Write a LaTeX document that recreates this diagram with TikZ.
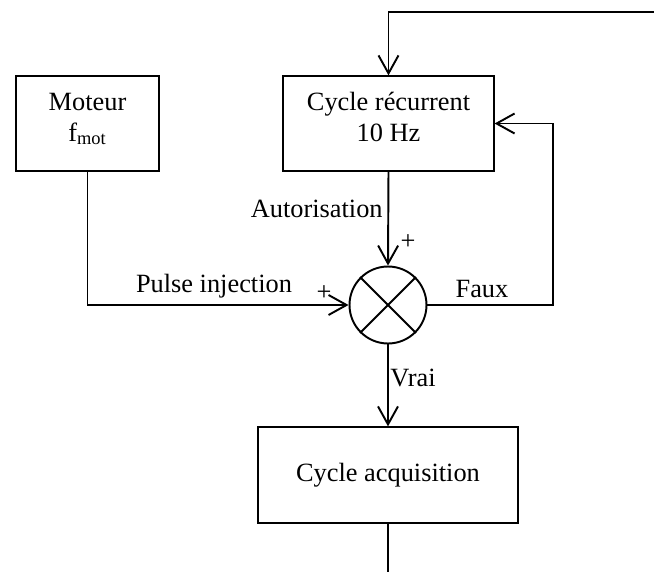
\documentclass[tikz,border=0pt]{standalone}
\usepackage{fontspec}
\setmainfont{Liberation Serif}
\usetikzlibrary{arrows.meta}

\begin{document}
\begin{tikzpicture}[
  x=0.02cm, y=-0.02cm,
  font=\fontsize{15}{17.6}\selectfont,
  bloc/.style={rectangle, draw, line width=0.7pt, align=center, inner sep=0pt},
  haut2/.style={text height=0.98cm, text depth=0.28cm},
  somme/.style={circle, draw, line width=1.1pt, minimum size=1.54cm, inner sep=0pt},
  fleche/.style={draw, line width=1.1pt, -{Straight Barb[length=0.36cm, width=0.4cm, line width=1.1pt]}},
  trait/.style={draw, line width=1.1pt},
  etiq/.style={anchor=base, inner sep=0pt}
]
  \useasboundingbox (0,0) rectangle (654,572);
  \node[bloc, haut2, minimum width=2.86cm, minimum height=1.9cm] (moteur) at (87.5,123.5) {Moteur\\f\textsubscript{mot}};
  \node[bloc, haut2, minimum width=4.22cm, minimum height=1.9cm] (recurrent) at (388.5,123.5) {Cycle récurrent\\10 Hz};
  \node[somme] (sum) at (388,305) {};
  \node[bloc, minimum width=5.2cm, minimum height=1.92cm] (acq) at (388,475) {Cycle acquisition};
  \coordinate (haut) at (654,12);
  \coordinate (retour) at (553,123.5);
  \coordinate (bas) at (388,572);
  \draw[line width=1.1pt] (sum.north west) -- (sum.south east);
  \draw[line width=1.1pt] (sum.north east) -- (sum.south west);
  \draw[fleche] (haut) -| (recurrent.north);
  \draw[fleche] (moteur.south) |- (sum.west);
  \draw[fleche] (recurrent.south) -- (sum.north);
  \draw[fleche] (sum.east) -| (retour) -- (recurrent.east);
  \draw[fleche] (sum.south) -- (acq.north);
  \draw[trait] (acq.south) -- (bas);
  \node[etiq, anchor=base east] (autor) at (383,217) {Autorisation};
  \node[etiq] (plushaut) at (408,249) {+};
  \node[etiq] (pulse) at (214,292) {Pulse injection};
  \node[etiq] (plusgauche) at (324,300) {+};
  \node[etiq] (faux) at (482,297) {Faux};
  \node[etiq] (vrai) at (413,386) {Vrai};
\end{tikzpicture}
\end{document}
